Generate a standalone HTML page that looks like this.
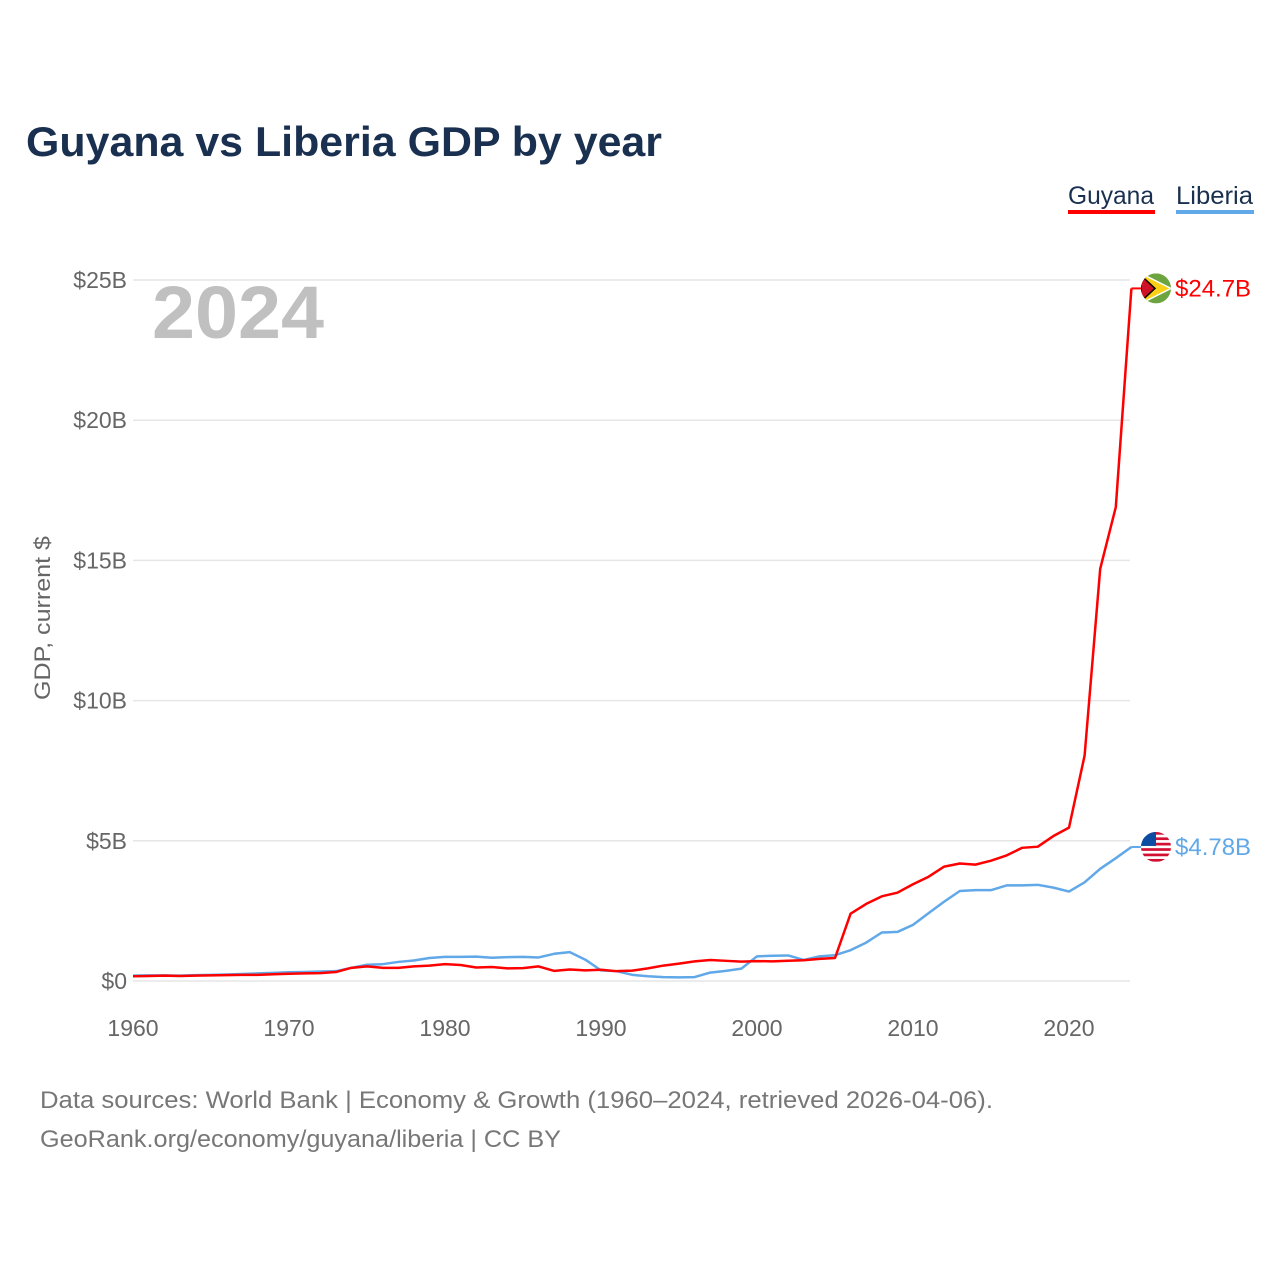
<!DOCTYPE html>
<html><head><meta charset="utf-8"><style>
html,body{margin:0;padding:0;background:#fff;}
body{width:1280px;height:1280px;position:relative;overflow:hidden;font-family:"Liberation Sans",sans-serif;}
</style></head><body>
<svg id="chart" width="1280" height="1280" xmlns="http://www.w3.org/2000/svg" font-family="Liberation Sans, sans-serif">
<defs>
<clipPath id="cg"><circle cx="1156" cy="288" r="15"/></clipPath>
<clipPath id="cl"><circle cx="1156" cy="847" r="15"/></clipPath>
</defs>
<text x="26" y="156" font-size="42" font-weight="bold" fill="#1a3050" textLength="636" lengthAdjust="spacingAndGlyphs">Guyana vs Liberia GDP by year</text>
<g>
<text x="1068" y="204" font-size="25" fill="#1a3050" textLength="86" lengthAdjust="spacingAndGlyphs">Guyana</text>
<rect x="1068" y="210" width="87" height="4" fill="#ff0000"/>
</g>
<g>
<text x="1176" y="204" font-size="25" fill="#1a3050" textLength="77" lengthAdjust="spacingAndGlyphs">Liberia</text>
<rect x="1176" y="210" width="78" height="4" fill="#60a8e8"/>
</g>
<text x="152" y="338" font-size="74" font-weight="bold" fill="#c0c0c0" textLength="172" lengthAdjust="spacingAndGlyphs">2024</text>
<text transform="translate(50,618) rotate(-90)" text-anchor="middle" font-size="22" fill="#666" textLength="164" lengthAdjust="spacingAndGlyphs">GDP, current $</text>
<g id="grid"></g><g id="series"></g><g id="ends"></g>
<text x="40" y="1108" font-size="24" fill="#777" textLength="953" lengthAdjust="spacingAndGlyphs">Data sources: World Bank | Economy &amp; Growth (1960–2024, retrieved 2026-04-06).</text>
<text x="40" y="1147" font-size="24" fill="#777" textLength="521" lengthAdjust="spacingAndGlyphs">GeoRank.org/economy/guyana/liberia | CC BY</text>
</svg>
<script>
const years=[];for(let y=1960;y<=2024;y++)years.push(y);
const guyana=[0.17,0.18,0.19,0.18,0.19,0.2,0.21,0.22,0.22,0.24,0.26,0.27,0.28,0.32,0.47,0.52,0.47,0.47,0.52,0.55,0.6,0.57,0.48,0.5,0.45,0.46,0.52,0.36,0.41,0.38,0.4,0.35,0.37,0.45,0.55,0.62,0.7,0.75,0.72,0.69,0.71,0.7,0.72,0.74,0.79,0.82,2.4,2.75,3.02,3.15,3.45,3.72,4.08,4.19,4.15,4.29,4.48,4.75,4.79,5.17,5.47,8.04,14.7,16.9,24.7];
const liberia=[0.19,0.2,0.2,0.19,0.21,0.22,0.23,0.25,0.27,0.29,0.31,0.32,0.34,0.35,0.47,0.58,0.6,0.68,0.73,0.82,0.86,0.86,0.87,0.83,0.85,0.86,0.84,0.97,1.03,0.76,0.38,0.35,0.22,0.17,0.14,0.13,0.14,0.3,0.36,0.44,0.88,0.9,0.91,0.75,0.88,0.92,1.1,1.37,1.73,1.75,2.0,2.42,2.83,3.21,3.24,3.24,3.41,3.41,3.43,3.33,3.19,3.52,4.0,4.38,4.78];
const yTicks=[0,5,10,15,20,25];
const yTickLabels=["$0","$5B","$10B","$15B","$20B","$25B"];
const xTicks=[1960,1970,1980,1990,2000,2010,2020];
const NS="http://www.w3.org/2000/svg";
const X=y=>133+(y-1960)*15.6;
const Y=v=>981-v*28.04;
function mk(t,a,p){const e=document.createElementNS(NS,t);for(const k in a)e.setAttribute(k,a[k]);p.appendChild(e);return e;}
const grid=document.getElementById('grid');
yTicks.forEach((v,i)=>{
 const l=mk('line',{x1:133,x2:1130,y1:Y(v),y2:Y(v),stroke:'#e6e6e6','stroke-width':1.5},grid);
 
 
 const t=mk('text',{x:127,y:Y(v)+8,'text-anchor':'end','font-size':23,fill:'#666'},grid);
 t.textContent=yTickLabels[i];
 
 
});
xTicks.forEach(y=>{
 const t=mk('text',{x:X(y),y:1036,'text-anchor':'middle','font-size':23,fill:'#666'},grid);
 t.textContent=y;
 
 
});
const ser=document.getElementById('series');
function line(d,c,n){
 const p=mk('polyline',{points:d.map((v,i)=>X(years[i])+','+Y(v)).join(' '),fill:'none',stroke:c,'stroke-width':2.5,'stroke-linejoin':'round'},ser);
 
 
}
line(liberia,'#60a8e8','liberia-line');
line(guyana,'#ff0000','guyana-line');
const ends=document.getElementById('ends');
function endLabel(v,c,n,clip,flag){
 const y=Y(v),x=X(2024);
 mk('line',{x1:x,x2:x+12,y1:y,y2:y,stroke:c,'stroke-width':2},ends);
 const g=mk('g',{'clip-path':'url(#'+clip+')'},ends);
 
 
 document.querySelector('#'+clip+' circle').setAttribute('cy',y);
 flag(g,1156,y);
 const t=mk('text',{x:1175,y:y+8,'font-size':24,fill:c},ends);
 t.textContent='$'+v+'B';
 
 
}
endLabel(guyana[guyana.length-1],'#ff0000','guyana','cg',(g,cx,cy)=>{
 mk('rect',{x:cx-15,y:cy-15,width:30,height:30,fill:'#6ca540'},g);
 mk('polygon',{points:`${cx-15},${cy-15} ${cx+15},${cy} ${cx-15},${cy+15}`,fill:'#fbd116',stroke:'#fff','stroke-width':1.5},g);
 mk('polygon',{points:`${cx-15},${cy-13} ${cx-1},${cy} ${cx-15},${cy+13}`,fill:'#ce1126',stroke:'#000','stroke-width':1.5},g);
});
endLabel(liberia[liberia.length-1],'#60a8e8','liberia','cl',(g,cx,cy)=>{
 mk('rect',{x:cx-15,y:cy-15,width:30,height:30,fill:'#fff'},g);
 for(let i=0;i<6;i++)mk('rect',{x:cx-15,y:cy-15+i*5.4,width:30,height:2.7,fill:'#d21034'},g);
 mk('rect',{x:cx-15,y:cy-15,width:15,height:14,fill:'#0c4da2'},g);
});
</script>
</body></html>
